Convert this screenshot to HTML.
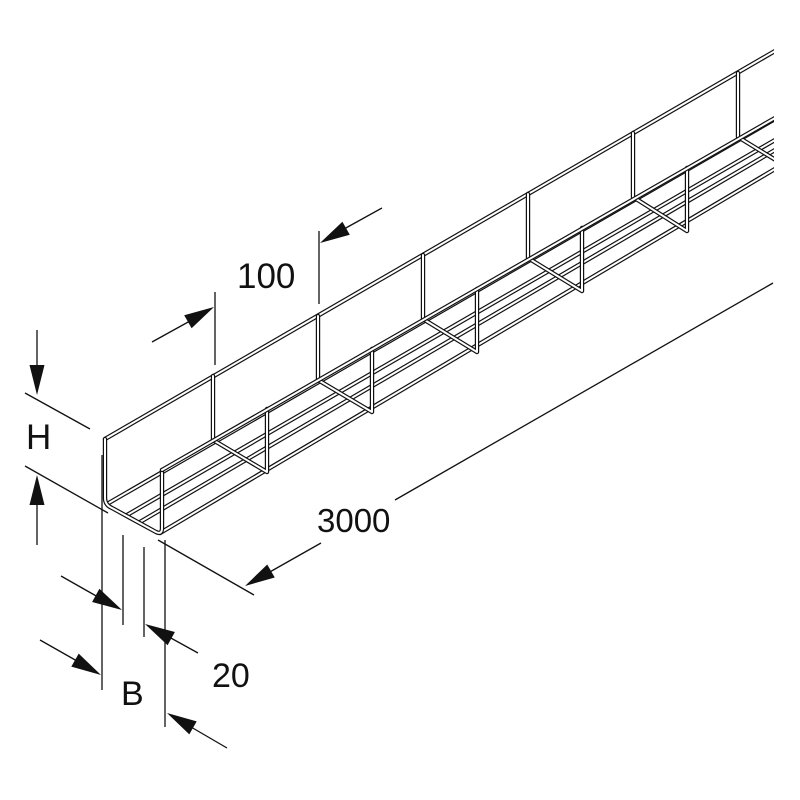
<!DOCTYPE html>
<html><head><meta charset="utf-8"><style>
html,body{margin:0;padding:0;background:#fff}
svg{display:block}
text{font-family:"Liberation Sans",sans-serif;fill:#111}
</style></head><body>
<svg width="800" height="800" viewBox="0 0 800 800" xmlns="http://www.w3.org/2000/svg">
<defs><clipPath id="c"><rect x="0" y="0" width="774" height="800"/></clipPath></defs>
<g clip-path="url(#c)" fill="none" stroke-linejoin="round" stroke-linecap="round">
  <g>
    <path d="M107,504 L775,119" stroke="#111" stroke-width="4.4"/>
    <path d="M107,504 L775,119" stroke="#fff" stroke-width="2"/>
    <path d="M127,515 L775,140" stroke="#111" stroke-width="4.4"/>
    <path d="M127,515 L775,140" stroke="#fff" stroke-width="2"/>
    <path d="M140,522 L775,150" stroke="#111" stroke-width="4.4"/>
    <path d="M140,522 L775,150" stroke="#fff" stroke-width="2"/>
    <path d="M160,533 L775,169" stroke="#111" stroke-width="4.4"/>
    <path d="M160,533 L775,169" stroke="#fff" stroke-width="2"/>
  </g>
  <path d="M105,439 L775,51" stroke="#111" stroke-width="4.4"/>
  <path d="M105,439 L775,51" stroke="#fff" stroke-width="2"/>
  <g>
    <path d="M105,439 L105,498 Q105,505 112,508 L156,532 Q162,535 162,528 L162,470" stroke="#111" stroke-width="4.4"/>
    <path d="M105,439 L105,498 Q105,505 112,508 L156,532 Q162,535 162,528 L162,470" stroke="#fff" stroke-width="2"/>
    <path d="M213,376 L213,440 L267,472 L267,409" stroke="#111" stroke-width="4.4"/>
    <path d="M213,376 L213,440 L267,472 L267,409" stroke="#fff" stroke-width="2"/>
    <path d="M318,316 L318,380 L372,412 L372,349" stroke="#111" stroke-width="4.4"/>
    <path d="M318,316 L318,380 L372,412 L372,349" stroke="#fff" stroke-width="2"/>
    <path d="M423,255 L423,319 L477,352 L477,289" stroke="#111" stroke-width="4.4"/>
    <path d="M423,255 L423,319 L477,352 L477,289" stroke="#fff" stroke-width="2"/>
    <path d="M528,194 L528,258 L582,291 L582,228" stroke="#111" stroke-width="4.4"/>
    <path d="M528,194 L528,258 L582,291 L582,228" stroke="#fff" stroke-width="2"/>
    <path d="M633,133 L633,197 L687,231 L687,168" stroke="#111" stroke-width="4.4"/>
    <path d="M633,133 L633,197 L687,231 L687,168" stroke="#fff" stroke-width="2"/>
    <path d="M738,73 L738,137 L792,170 L792,107" stroke="#111" stroke-width="4.4"/>
    <path d="M738,73 L738,137 L792,170 L792,107" stroke="#fff" stroke-width="2"/>
  </g>
  <path d="M162,470 L775,118" stroke="#111" stroke-width="4.4"/>
  <path d="M162,470 L775,118" stroke="#fff" stroke-width="2"/>
</g>
<g fill="none" stroke="#111" stroke-width="1.3">
  <line x1="37" y1="330" x2="37" y2="368"/>
  <line x1="37" y1="502" x2="37" y2="545"/>
  <line x1="25" y1="393" x2="90" y2="429"/>
  <line x1="25" y1="466" x2="108" y2="513"/>
  <line x1="215" y1="292" x2="215" y2="365"/>
  <line x1="319" y1="231" x2="319" y2="304"/>
  <line x1="152" y1="342" x2="190" y2="321"/>
  <line x1="382" y1="208" x2="344" y2="229"/>
  <line x1="158" y1="540" x2="254" y2="595"/>
  <line x1="268" y1="573" x2="321" y2="543"/>
  <line x1="395" y1="500" x2="773" y2="283"/>
  <line x1="102" y1="455" x2="102" y2="690"/>
  <line x1="165" y1="540" x2="165" y2="727"/>
  <line x1="40" y1="640" x2="77" y2="661"/>
  <line x1="227" y1="748" x2="191" y2="727"/>
  <line x1="123" y1="535" x2="123" y2="625"/>
  <line x1="144" y1="547" x2="144" y2="637"/>
  <line x1="61" y1="576" x2="98" y2="597"/>
  <line x1="198" y1="653" x2="169" y2="637"/>
</g>
<g fill="#111" stroke="none">
  <polygon points="37,395 29.5,365 44.5,365"/>
  <polygon points="37,475 29.5,505 44.5,505"/>
  <polygon points="214,307 191.6,328.3 184.2,315.3"/>
  <polygon points="320,243 349.8,234.7 342.4,221.7"/>
  <polygon points="245,586 274.75,577.5 267.25,564.5"/>
  <polygon points="101,675 71.3,666.6 78.7,653.6"/>
  <polygon points="167,713 189.3,734.4 196.7,721.4"/>
  <polygon points="122,610 92.1,602 99.4,588.8"/>
  <polygon points="145,624 167.6,645.2 174.9,632"/>
</g>
<text x="26" y="449" font-size="35">H</text>
<text x="237" y="288" font-size="35">100</text>
<text x="317" y="532" font-size="33">3000</text>
<text x="121" y="705" font-size="34">B</text>
<text x="212" y="687" font-size="34">20</text>
</svg>
</body></html>
